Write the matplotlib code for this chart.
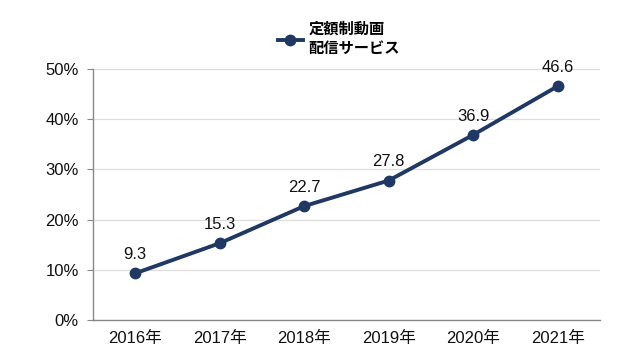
import matplotlib
matplotlib.use("Agg")
import matplotlib.pyplot as plt

plt.rcParams['font.family'] = ['Liberation Sans', 'Noto Sans CJK JP']

years = ['2016年', '2017年', '2018年', '2019年', '2020年', '2021年']
values = [9.3, 15.3, 22.7, 27.8, 36.9, 46.6]
series_name = '定額制動画\n配信サービス'
navy = '#1f3864'

fig = plt.figure(figsize=(6.4, 3.6), dpi=100)
ax = fig.add_axes([0.145, 0.111, 0.7925, 0.697])

x = range(len(years))
ax.plot(x, values, color=navy, lw=2.8, marker='o', ms=7.5, label=series_name)
for i, v in zip(x, values):
    ax.annotate(f'{v}', (i, v), xytext=(0, 8), textcoords='offset points',
                ha='center', va='bottom', fontsize=12, color='#111111')

ax.set_xlim(-0.5, len(years) - 0.5)
ax.set_ylim(0, 50)
ax.set_yticks(range(0, 51, 10))
ax.set_yticklabels([f'{t}%' for t in range(0, 51, 10)])
ax.set_xticks(list(x))
ax.set_xticklabels(years)
ax.tick_params(axis='y', length=4, color='#888888', labelsize=12, pad=6,
               labelcolor='#111111')
ax.tick_params(axis='x', length=0, labelsize=12, pad=8, labelcolor='#111111')
ax.grid(axis='y', color='#dddddd', lw=0.9)
ax.set_axisbelow(True)
for s in ['top', 'right']:
    ax.spines[s].set_visible(False)
for s in ['left', 'bottom']:
    ax.spines[s].set_color('#888888')
    ax.spines[s].set_linewidth(1.0)

leg = fig.legend(loc='upper center', bbox_to_anchor=(0.53, 0.98), frameon=False,
                 handlelength=1.6, handletextpad=0.4,
                 prop={'family': ['Noto Sans CJK JP'], 'weight': 'bold', 'size': 11})
for t in leg.get_texts():
    t.set_linespacing(1.25)

fig.savefig('out.png', dpi=100)
